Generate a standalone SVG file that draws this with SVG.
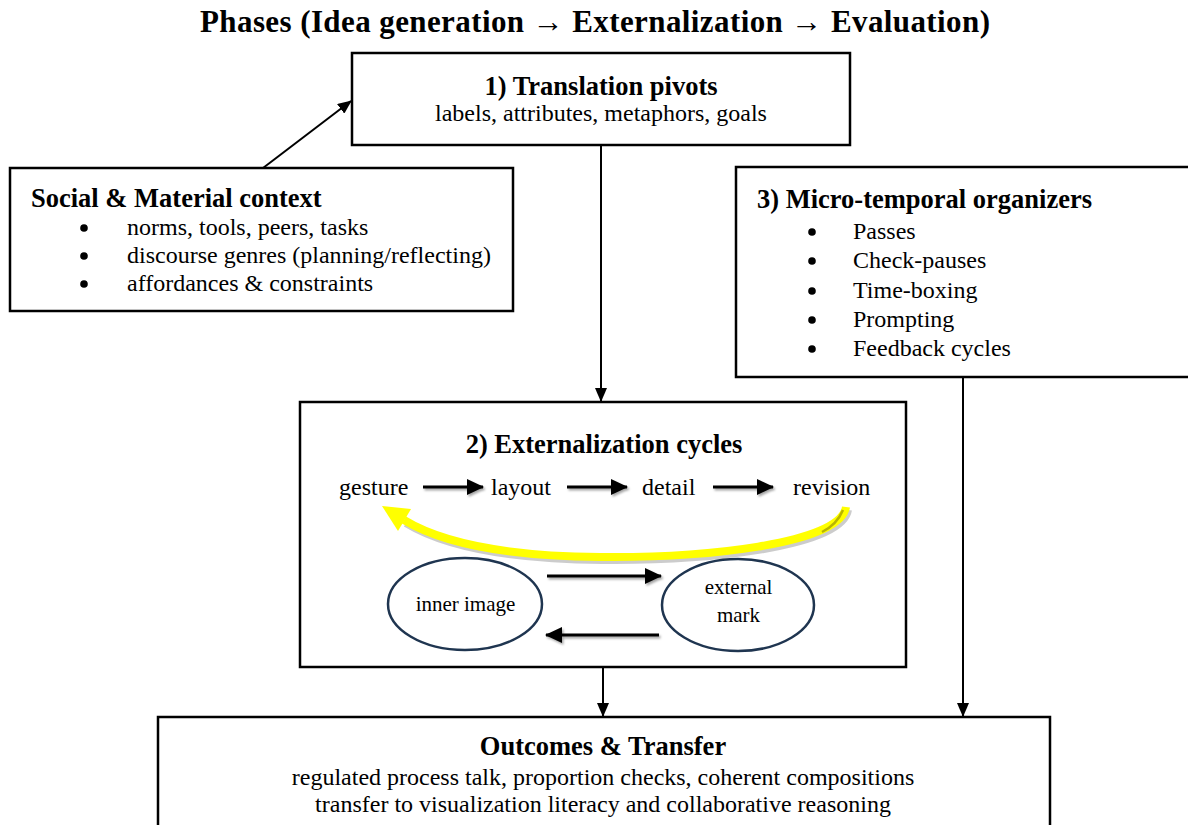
<svg xmlns="http://www.w3.org/2000/svg" width="1188" height="825" viewBox="0 0 1188 825">
<style>
text{font-family:"Liberation Serif","Times New Roman",serif;fill:#000}
.t{font-weight:bold;font-size:26.5px}
.b{font-size:24px}
.e{font-size:21px}
.box{fill:#fff;stroke:#000;stroke-width:2.5}
.ell{fill:#fff;stroke:#1f3550;stroke-width:2.5}
.con{stroke:#000;stroke-width:2;fill:none;marker-end:url(#ah)}
.in{stroke:#000;stroke-width:3;fill:none;marker-end:url(#ah2)}
.dot{fill:#000}
</style>
<defs>
<filter id="sh" filterUnits="userSpaceOnUse" x="0" y="0" width="1188" height="825"><feDropShadow dx="1.5" dy="2" stdDeviation="1.2" flood-color="#000" flood-opacity="0.35"/></filter>
<marker id="ah" markerUnits="userSpaceOnUse" markerWidth="14" markerHeight="12" refX="13" refY="6" orient="auto"><path d="M0,0 L14,6 L0,12 z" fill="#000"/></marker>
<marker id="ah2" markerUnits="userSpaceOnUse" markerWidth="17" markerHeight="16" refX="16" refY="8" orient="auto"><path d="M0,0 L17,8 L0,16 z" fill="#000"/></marker>
</defs>
<rect width="1188" height="825" fill="#fff"/>
<text x="595" y="32" text-anchor="middle" style="font-weight:bold;font-size:31px" textLength="790">Phases (Idea generation → Externalization → Evaluation)</text>

<g id="connectors">
<line class="con" x1="263" y1="168" x2="351" y2="101"/>
<line class="con" x1="601" y1="146" x2="601" y2="401"/>
<line class="con" x1="963" y1="378" x2="963" y2="716"/>
<line class="con" x1="603" y1="668" x2="603" y2="716"/>
</g>

<g id="translation-pivots">
<rect class="box" x="352" y="53" width="498" height="92"/>
<text class="t" x="601" y="95" text-anchor="middle">1) Translation pivots</text>
<text class="b" x="601" y="121" text-anchor="middle">labels, attributes, metaphors, goals</text>
</g>

<g id="social-context">
<rect class="box" x="10" y="168" width="503" height="143"/>
<text class="t" x="31" y="207">Social &amp; Material context</text>
<circle class="dot" cx="84" cy="228" r="3.8"/>
<circle class="dot" cx="84" cy="256" r="3.8"/>
<circle class="dot" cx="84" cy="284" r="3.8"/>
<text class="b" x="127" y="235">norms, tools, peers, tasks</text>
<text class="b" x="127" y="263">discourse genres (planning/reflecting)</text>
<text class="b" x="127" y="291">affordances &amp; constraints</text>
</g>

<g id="micro-temporal">
<rect class="box" x="736" y="167" width="470" height="210"/>
<text class="t" x="757" y="208">3) Micro-temporal organizers</text>
<circle class="dot" cx="812" cy="232" r="3.8"/>
<circle class="dot" cx="812" cy="261" r="3.8"/>
<circle class="dot" cx="812" cy="291" r="3.8"/>
<circle class="dot" cx="812" cy="320" r="3.8"/>
<circle class="dot" cx="812" cy="349" r="3.8"/>
<text class="b" x="853" y="239">Passes</text>
<text class="b" x="853" y="268">Check-pauses</text>
<text class="b" x="853" y="298">Time-boxing</text>
<text class="b" x="853" y="327">Prompting</text>
<text class="b" x="853" y="356">Feedback cycles</text>
</g>

<g id="externalization-cycles">
<rect class="box" x="300" y="402" width="606" height="265"/>
<text class="t" x="604" y="453" text-anchor="middle">2) Externalization cycles</text>
<text class="b" x="339" y="495">gesture</text>
<text class="b" x="491" y="495">layout</text>
<text class="b" x="642" y="495">detail</text>
<text class="b" x="793" y="495">revision</text>
<g filter="url(#sh)">
<line class="in" x1="423" y1="487" x2="483" y2="487"/>
<line class="in" x1="567" y1="487" x2="627" y2="487"/>
<line class="in" x1="713" y1="487" x2="773" y2="487"/>
</g>
<path d="M846 507 C840 545 700 558 600 557 C500 556 440 542 404 520" fill="none" stroke="#000" stroke-opacity="0.2" stroke-width="8" transform="translate(2,3)"/>
<path d="M846 507 C840 545 700 558 600 557 C500 556 440 542 404 520" fill="none" stroke="#ffff00" stroke-width="8"/>
<path d="M843 510 C838 522 830 528 822 532" fill="none" stroke="#b8b400" stroke-width="2.5"/>
<polygon points="382,506 411,509 398,531" fill="#ffff00"/>
</g>

<g id="inner-image">
<ellipse class="ell" cx="465" cy="604" rx="77" ry="46"/>
<text class="e" x="465.5" y="611" text-anchor="middle">inner image</text>
</g>

<g id="external-mark">
<ellipse class="ell" cx="738" cy="605" rx="76" ry="46"/>
<text class="e" x="738.5" y="594" text-anchor="middle">external</text>
<text class="e" x="738.5" y="622" text-anchor="middle">mark</text>
</g>

<g id="inner-arrows" filter="url(#sh)">
<line class="in" x1="547" y1="576" x2="661" y2="576"/>
<line class="in" x1="659" y1="635" x2="546" y2="635"/>
</g>

<g id="outcomes">
<rect class="box" x="158" y="717" width="892" height="130"/>
<text class="t" x="603" y="755" text-anchor="middle">Outcomes &amp; Transfer</text>
<text class="b" x="603" y="785" text-anchor="middle">regulated process talk, proportion checks, coherent compositions</text>
<text class="b" x="603" y="812" text-anchor="middle">transfer to visualization literacy and collaborative reasoning</text>
</g>
</svg>
